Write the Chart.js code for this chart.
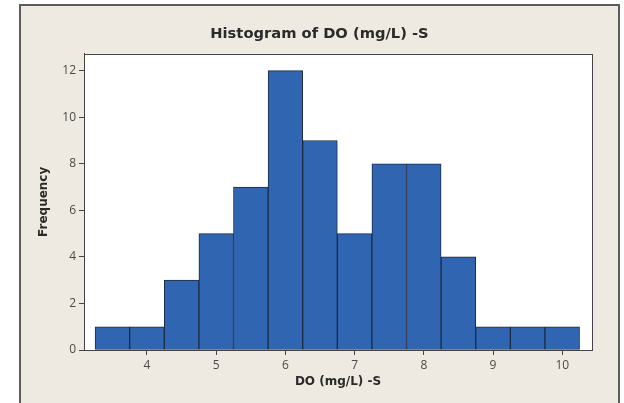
<!DOCTYPE html>
<html>
<head>
<meta charset="utf-8">
<script src="https://cdn.jsdelivr.net/npm/chart.js@4"></script>
<style>
  html, body { margin:0; padding:0; background:#ffffff; width:624px; height:403px; overflow:hidden; }
  #frame { position:absolute; left:19px; top:4px; width:597px; height:399px; border-left:2px solid #5c5c5c; border-top:2px solid #5c5c5c; border-right:2px solid #5c5c5c; background:#EEEAE1; }
  #wrap { position:absolute; left:0; top:0; width:597px; height:397px; }
</style>
</head>
<body>
<div id="frame"><div id="wrap"><canvas id="c" width="597" height="397"></canvas></div></div>
<script>
// Data
const binCenters = [3.5, 4.0, 4.5, 5.0, 5.5, 6.0, 6.5, 7.0, 7.5, 8.0, 8.5, 9.0, 9.5, 10.0];
const frequencies = [1, 1, 3, 5, 7, 12, 9, 5, 8, 8, 4, 1, 1, 1];
const xTickValues = [4, 5, 6, 7, 8, 9, 10];
const yTickValues = [0, 2, 4, 6, 8, 10, 12];
const chartTitle = 'Histogram of DO (mg/L) -S';
const xTitle = 'DO (mg/L) -S';
const yTitle = 'Frequency';

const points = binCenters.map((x, i) => ({ x: x, y: frequencies[i] }));

const boxPlugin = {
  id: 'box',
  beforeDraw(chart) {
    const a = chart.chartArea, ctx = chart.ctx;
    ctx.save();
    ctx.fillStyle = '#ffffff';
    ctx.fillRect(a.left, a.top, a.right - a.left, a.bottom - a.top);
    ctx.restore();
  },
  afterDraw(chart) {
    const a = chart.chartArea, ctx = chart.ctx;
    ctx.save();
    ctx.strokeStyle = '#444444';
    ctx.lineWidth = 1;
    ctx.strokeRect(Math.round(a.left) + 0.5, Math.round(a.top) + 0.5, Math.round(a.right - a.left), Math.round(a.bottom - a.top));
    ctx.restore();
  }
};

new Chart(document.getElementById('c'), {
  type: 'bar',
  data: {
    datasets: [{
      data: points,
      backgroundColor: '#2F65B1',
      borderColor: '#1E2B45',
      borderWidth: 1,
      borderSkipped: false,
      barPercentage: 1.0,
      categoryPercentage: 1.0
    }]
  },
  options: {
    responsive: false,
    animation: false,
    devicePixelRatio: 1,
    layout: { padding: 0 },
    plugins: {
      legend: { display: false },
      tooltip: { enabled: false },
      title: {
        display: true,
        text: chartTitle,
        color: '#2a2a2a',
        font: { family: 'DejaVu Sans', size: 14.7, weight: 'bold' },
        padding: { top: 19, bottom: 11 }
      }
    },
    scales: {
      x: {
        type: 'linear',
        min: 3.09,
        max: 10.43,
        offset: false,
        grid: { offset: false, drawOnChartArea: false, drawTicks: true, tickLength: 5, color: '#444444' },
        border: { display: true, color: '#444444' },
        ticks: { color: '#4a4a4a', font: { family: 'Open Sans', size: 12 }, padding: 3 },
        afterBuildTicks(scale) { scale.ticks = xTickValues.map(v => ({ value: v })); },
        afterFit(scale) { scale.height = 53; },
        title: {
          display: true, text: xTitle, color: '#2a2a2a',
          font: { family: 'DejaVu Sans', size: 12, weight: 'bold' },
          padding: { top: 0, bottom: 14 }
        }
      },
      y: {
        min: 0,
        max: 12.73,
        grid: { drawOnChartArea: false, drawTicks: true, tickLength: 5, color: '#444444' },
        border: { display: true, color: '#444444' },
        ticks: { color: '#4a4a4a', font: { family: 'Open Sans', size: 12 }, padding: 3 },
        afterBuildTicks(scale) { scale.ticks = yTickValues.map(v => ({ value: v })); },
        afterFit(scale) { scale.width = 63; },
        title: {
          display: true, text: yTitle, color: '#2a2a2a',
          font: { family: 'DejaVu Sans', size: 12, weight: 'bold' },
          padding: { top: 16, bottom: 0 }
        }
      },
      rightSpace: {
        type: 'linear',
        position: 'right',
        display: true,
        grid: { display: false },
        border: { display: false },
        ticks: { display: false },
        afterFit(scale) { scale.width = 26; }
      }
    }
  },
  plugins: [boxPlugin]
});
</script>
</body>
</html>
